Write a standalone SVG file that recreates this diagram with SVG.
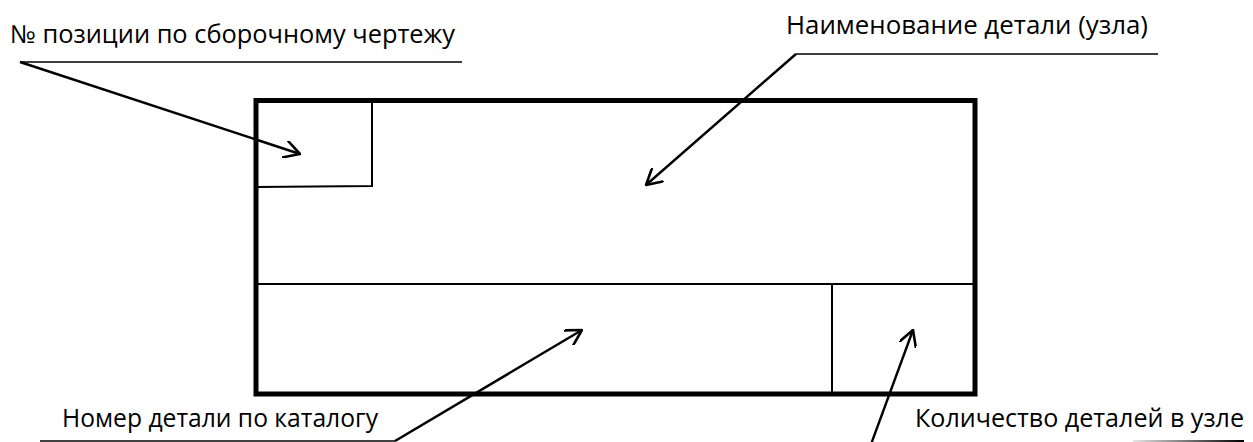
<svg xmlns="http://www.w3.org/2000/svg" width="1253" height="442" viewBox="0 0 1253 442">
  <style>
    .label { font-family: "Open Sans", "Liberation Sans", sans-serif; font-size: 25px; fill: #000; }
    .frame { fill: none; stroke: #000; stroke-width: 5; stroke-linejoin: miter; }
    .cell { fill: none; stroke: #000; stroke-width: 2; }
    .shelf { fill: none; stroke: #000; stroke-width: 1.6; }
    .leader { fill: none; stroke: #000; stroke-width: 2.4; marker-end: url(#open-arrow); }
  </style>
  <defs>
    <marker id="open-arrow" markerUnits="userSpaceOnUse" viewBox="0 0 17 18" markerWidth="17" markerHeight="18" refX="16" refY="9" orient="auto">
      <path d="M0,0 L16,9 L0,18" fill="none" stroke="#000" stroke-width="2.6" stroke-linecap="round" stroke-linejoin="miter"/>
    </marker>
    <linearGradient id="fade" x1="1133" y1="0" x2="1244" y2="0" gradientUnits="userSpaceOnUse">
      <stop offset="0" stop-color="#000" stop-opacity="0.1"/>
      <stop offset="1" stop-color="#000" stop-opacity="1"/>
    </linearGradient>
  </defs>

  <rect width="1253" height="442" fill="#fff"/>

  <!-- title block frame with its cells -->
  <g id="block">
    <rect class="frame" x="256" y="100.5" width="719" height="293.5"/>
    <path class="cell" d="M372,100 L372,186 L256,187"/>
    <line class="cell" x1="256" y1="284" x2="975" y2="284"/>
    <line class="cell" x1="832" y1="284" x2="832" y2="394"/>
  </g>

  <g id="label-position">
    <text class="label" x="10" y="43" textLength="445" lengthAdjust="spacingAndGlyphs">№ позиции по сборочному чертежу</text>
    <line class="shelf" x1="20" y1="62" x2="462" y2="62"/>
  </g>

  <g id="label-name">
    <text class="label" x="786" y="34" textLength="362" lengthAdjust="spacingAndGlyphs">Наименование детали (узла)</text>
    <line class="shelf" x1="796" y1="54" x2="1158" y2="54"/>
  </g>

  <g id="label-catalog">
    <text class="label" x="62" y="427" textLength="316" lengthAdjust="spacingAndGlyphs">Номер детали по каталогу</text>
    <line class="shelf" x1="40" y1="441" x2="395" y2="441"/>
  </g>

  <g id="label-quantity">
    <text class="label" x="915" y="427" textLength="329" lengthAdjust="spacingAndGlyphs">Количество деталей в узле</text>
    <line x1="1133" y1="441" x2="1244" y2="441" stroke="url(#fade)" stroke-width="2"/>
  </g>

  <!-- leader arrows -->
  <g id="connectors">
    <line class="leader" x1="20" y1="62" x2="300" y2="154"/>
    <line class="leader" x1="796" y1="54" x2="646" y2="185"/>
    <line class="leader" x1="395" y1="441" x2="582" y2="330"/>
    <line class="leader" x1="870" y1="447" x2="913" y2="330"/>
  </g>
</svg>
